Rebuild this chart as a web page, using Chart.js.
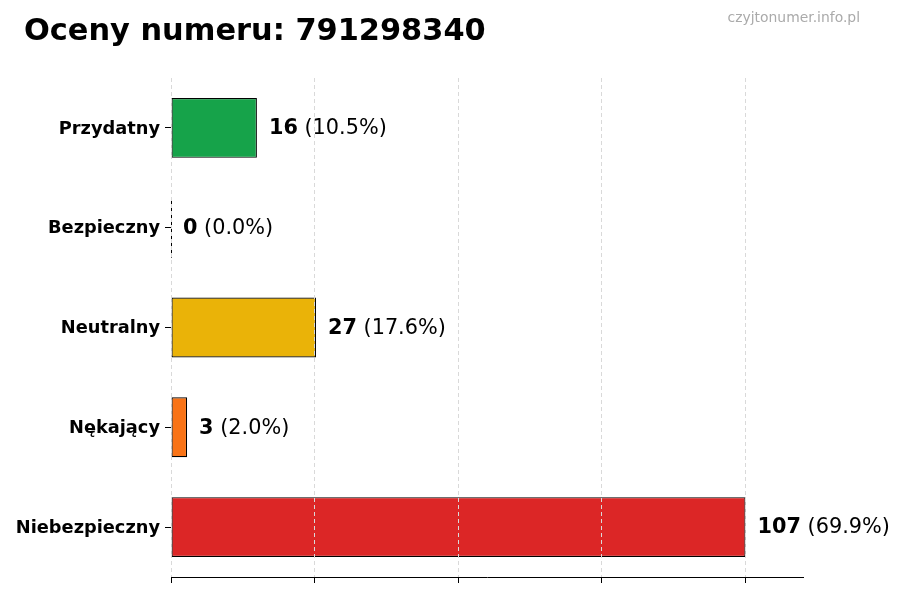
<!DOCTYPE html>
<html>
<head>
<meta charset="utf-8">
<script src="https://cdn.jsdelivr.net/npm/chart.js@4/dist/chart.umd.min.js"></script>
<style>
  html, body { margin: 0; padding: 0; background: #fff; }
  #wrap { width: 900px; height: 600px; }
</style>
</head>
<body>
<div id="wrap"><canvas id="myChart" width="900" height="600"></canvas></div>
<script>
var categories = ["Przydatny", "Bezpieczny", "Neutralny", "Nękający", "Niebezpieczny"];
var counts = [16, 0, 27, 3, 107];
var barColors = ["#16a34a", "#2563eb", "#eab308", "#f97316", "#dc2626"];
var xTicks = [0, 26.75, 53.5, 80.25, 107];
var xMax = 117.7;

var total = counts.reduce(function (a, b) { return a + b; }, 0);
var FONT = "'DejaVu Sans', sans-serif";

var headerPlugin = {
  id: "header",
  afterDraw: function (chart) {
    var ctx = chart.ctx;
    ctx.save();
    ctx.textBaseline = "alphabetic";
    ctx.fillStyle = "#000";
    ctx.textAlign = "left";
    ctx.font = "bold 30.4px " + FONT;
    ctx.fillText("Oceny numeru: 791298340", 24, 40);
    ctx.fillStyle = "#aaaaaa";
    ctx.textAlign = "right";
    ctx.font = "13.9px " + FONT;
    ctx.fillText("czyjtonumer.info.pl", 860, 22);
    ctx.restore();
  }
};

var valueLabels = {
  id: "valueLabels",
  afterDatasetsDraw: function (chart) {
    // zero-length bars still show their outline edge
    var ctx = chart.ctx;
    var meta = chart.getDatasetMeta(0);
    ctx.save();
    ctx.strokeStyle = "#000";
    ctx.lineWidth = 1;
    meta.data.forEach(function (bar, i) {
      if (counts[i] === 0) {
        ctx.beginPath();
        ctx.moveTo(bar.x + 0.5, bar.y - bar.height / 2);
        ctx.lineTo(bar.x + 0.5, bar.y + bar.height / 2);
        ctx.stroke();
      }
    });
    ctx.restore();
  },
  afterDraw: function (chart) {
    var ctx = chart.ctx;
    var meta = chart.getDatasetMeta(0);
    ctx.save();
    ctx.textBaseline = "middle";
    ctx.textAlign = "left";
    ctx.fillStyle = "#000";
    meta.data.forEach(function (bar, i) {
      var v = counts[i];
      var pct = " (" + (v / total * 100).toFixed(1) + "%)";
      var x = bar.x + 12;
      var y = bar.y + 1;
      ctx.font = "bold 20.8px " + FONT;
      var s = String(v);
      ctx.fillText(s, x, y);
      var w = ctx.measureText(s).width;
      ctx.font = "20.8px " + FONT;
      ctx.fillText(pct, x + w, y);
    });
    ctx.restore();
  }
};

new Chart("myChart", {
  type: "bar",
  data: {
    labels: categories,
    datasets: [{
      data: counts,
      backgroundColor: barColors,
      borderColor: "#000",
      borderWidth: 1.2,
      borderSkipped: false,
      barPercentage: 0.6,
      categoryPercentage: 1.0
    }]
  },
  options: {
    indexAxis: "y",
    responsive: false,
    animation: false,
    layout: { padding: { top: 78, right: 97, bottom: 0, left: 0 } },
    plugins: {
      legend: { display: false },
      title: { display: false },
      tooltip: { enabled: false }
    },
    scales: {
      x: {
        min: 0,
        max: xMax,
        afterBuildTicks: function (scale) {
          scale.ticks = xTicks.map(function (v) { return { value: v }; });
        },
        afterFit: function (scale) { scale.height = 23; },
        ticks: { display: false },
        grid: {
          z: 1,
          color: "#d9d9d9",
          lineWidth: 1,
          drawTicks: true,
          tickLength: 6,
          tickColor: "#000",
          tickBorderDash: []
        },
        border: { display: true, z: 1, color: "#000", width: 1, dash: [4, 3] }
      },
      y: {
        afterFit: function (scale) { scale.width = 171; },
        ticks: {
          color: "#000",
          padding: 5,
          labelOffset: 1,
          font: { family: FONT, size: 17.8, weight: "bold" }
        },
        grid: {
          offset: false,
          drawOnChartArea: false,
          drawTicks: true,
          tickLength: 6,
          tickColor: "#000"
        },
        border: { display: false }
      }
    }
  },
  plugins: [headerPlugin, valueLabels]
});
</script>
</body>
</html>
